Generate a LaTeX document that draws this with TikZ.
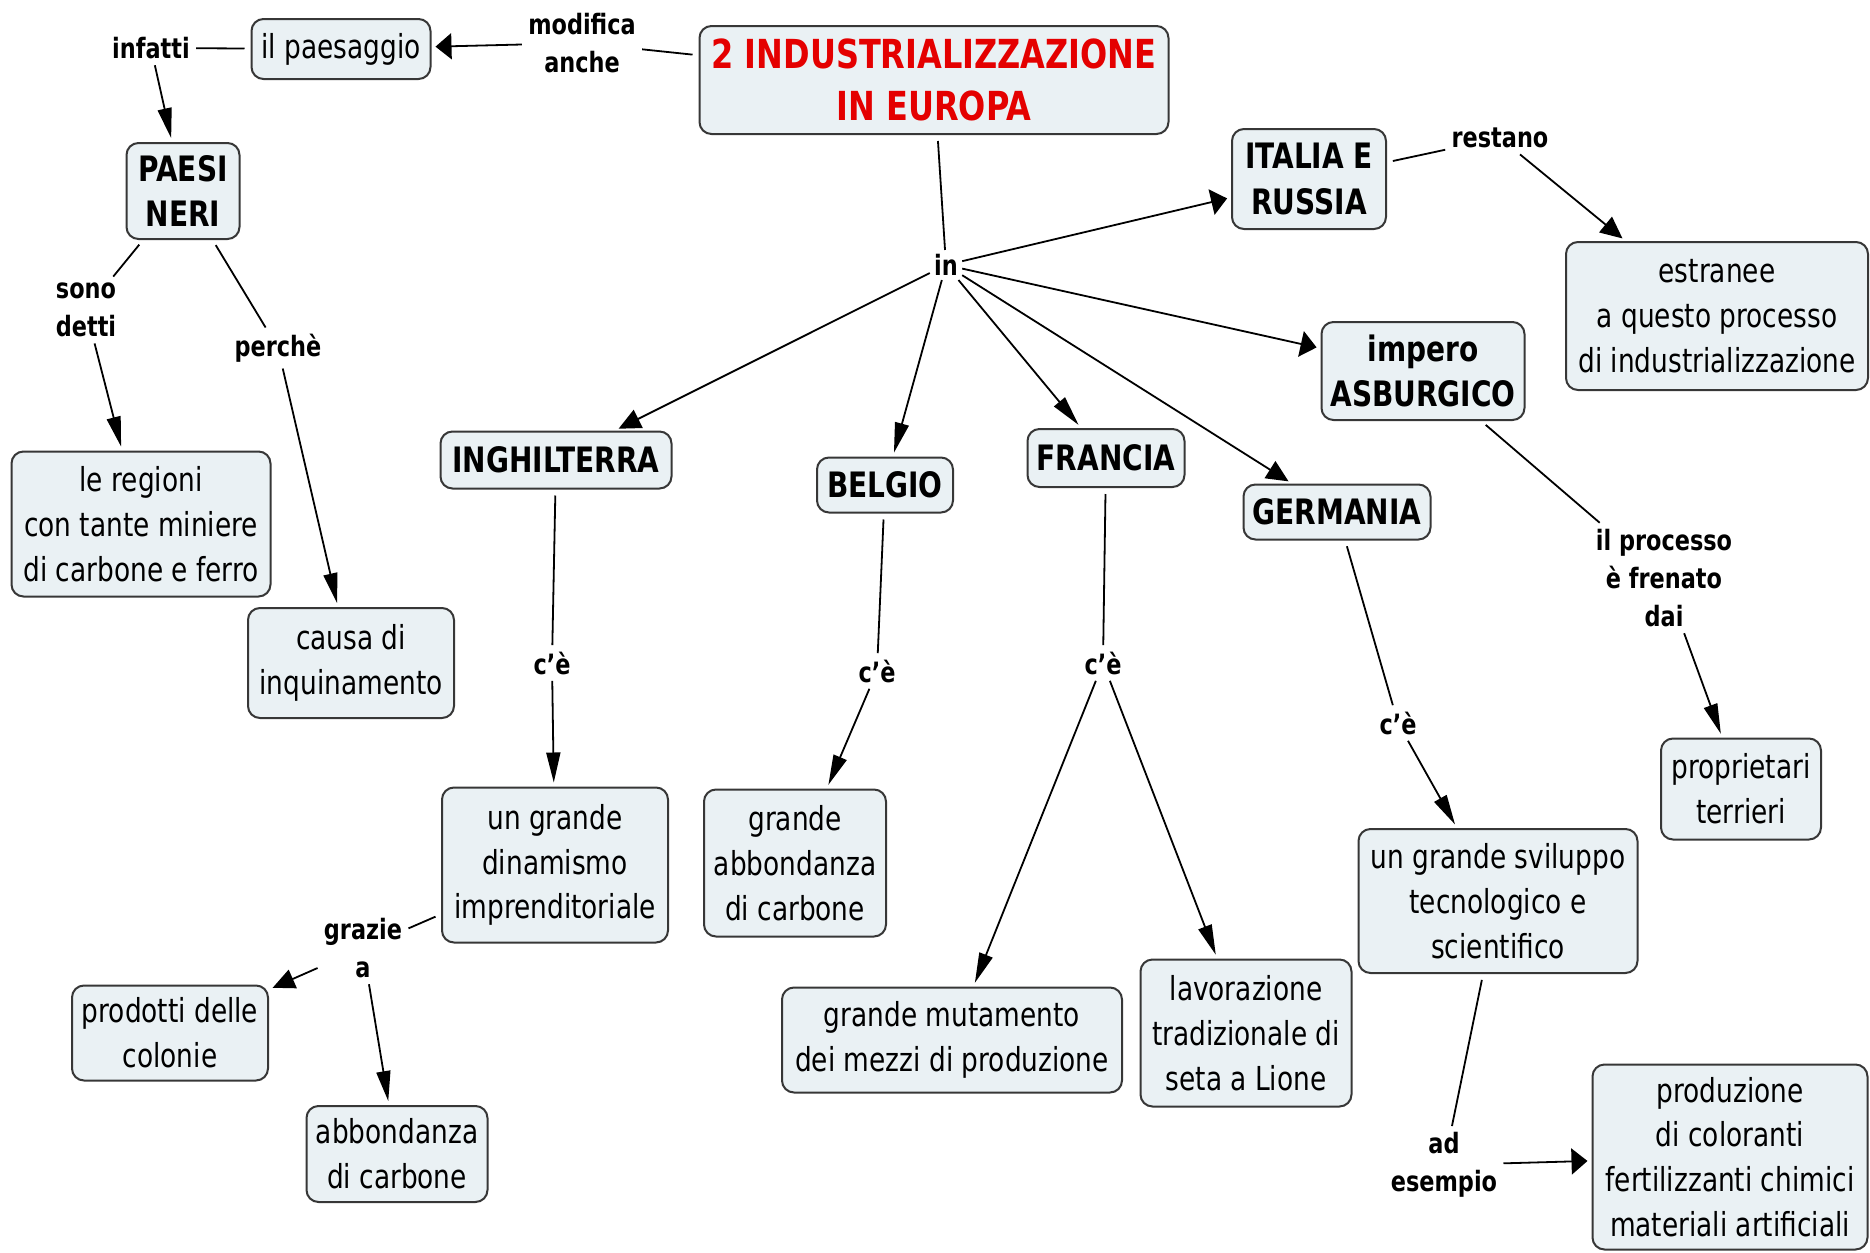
\documentclass[tikz,border=0pt]{standalone}
\usepackage{fontspec}
\setmainfont[FakeStretch=0.8]{DejaVu Sans}
\usetikzlibrary{arrows.meta}

\definecolor{boxfill}{RGB}{234,241,244}
\definecolor{boxline}{RGB}{55,55,55}
\definecolor{titlered}{RGB}{228,0,0}

\begin{document}
\begin{tikzpicture}[x=0.5pt,y=-0.5pt,
    box/.style={draw=boxline, line width=1pt, fill=boxfill, rounded corners=6pt,
      align=center, inner sep=0pt, font=\fontsize{16.5}{22.4}\selectfont},
    boldbox/.style={box, font=\fontsize{17.5}{22.6}\selectfont\bfseries},
    wh/.style 2 args={minimum width=#1pt, minimum height=#2pt},
    linkword/.style={align=center, inner sep=3pt, font=\fontsize{14}{19}\selectfont\bfseries},
    line/.style={draw, line width=0.9pt, shorten <=3pt},
    varr/.style={draw, line width=0.9pt, shorten >=2pt, -{Triangle[length=15pt,width=7pt]}},
    marr/.style={draw, line width=0.9pt, shorten >=2pt, -{Triangle[length=11pt,width=10pt]}},
    harr/.style={draw, line width=0.9pt, shorten >=2pt, -{Triangle[length=8pt,width=13pt]}}]

  \useasboundingbox (0,0) rectangle (1870,1253);

  % concepts
  \node[box, wh={234.5}{54}, text=titlered, font=\fontsize{20}{25.6}\selectfont\bfseries]
    (title) at (934,80) {2 INDUSTRIALIZZAZIONE\\IN EUROPA};

  \begin{scope}[every node/.style={box}]
    \node[wh={89.5}{30}]    (paesaggio)   at (341,49)    {il paesaggio};
    \node[wh={129.5}{72.5}] (regioni)     at (141,524)   {le regioni\\con tante miniere\\di carbone e ferro};
    \node[wh={103}{55}]     (causa)       at (351,663)   {causa di\\inquinamento};
    \node[wh={151}{74}]     (estranee)    at (1717,316)  {estranee\\a questo processo\\di industrializzazione};
    \node[wh={80}{50.5}]    (proprietari) at (1741,789)  {proprietari\\terrieri};
    \node[wh={113}{77.5}]   (dinamismo)   at (555,865)   {un grande\\dinamismo\\imprenditoriale};
    \node[wh={91}{73.5}]    (carbonebe)   at (795,863)   {grande\\abbondanza\\di carbone};
    \node[wh={170}{52.5}]   (mutamento)   at (952,1040)  {grande mutamento\\dei mezzi di produzione};
    \node[wh={105.5}{73.5}] (seta)        at (1246,1033) {lavorazione\\tradizionale di\\seta a Lione};
    \node[wh={139.5}{72}]   (sviluppo)    at (1498,901)  {un grande sviluppo\\tecnologico e\\scientifico};
    \node[wh={137.5}{92.5}] (produzione)  at (1730,1157) {produzione\\di coloranti\\fertilizzanti chimici\\materiali artificiali};
    \node[wh={98}{47.5}]    (colonie)     at (170,1033)  {prodotti delle\\colonie};
    \node[wh={90.5}{48}]    (carboneen)   at (397,1154)  {abbondanza\\di carbone};
  \end{scope}

  \begin{scope}[every node/.style={boldbox}]
    \node[wh={56.5}{48}]   (paesi)       at (183,191)  {PAESI\\NERI};
    \node[wh={77}{50}]     (italia)      at (1309,179) {ITALIA E\\RUSSIA};
    \node[wh={101.5}{49}]  (impero)      at (1423,371) {impero\\ASBURGICO};
    \node[wh={115.5}{28.5}](inghilterra) at (556,460)  {INGHILTERRA};
    \node[wh={68}{27.5}]   (belgio)      at (885,485)  {BELGIO};
    \node[wh={78.5}{29}]   (francia)     at (1106,458) {FRANCIA};
    \node[wh={93.5}{27.5}] (germania)    at (1337,512) {GERMANIA};
  \end{scope}

  % linking words
  \begin{scope}[every node/.style={linkword}]
    \node (modifica) at (582,43)   {modifica\\anche};
    \node (infatti)  at (151,48)   {infatti};
    \node (detti)    at (86,310)   {sono\\detti};
    \node (perche)   at (278,348)  {perchè};
    \node[inner sep=2pt] (in) at (946,265) {in};
    \node (restano)  at (1500,138) {restano};
    \node (frenato)  at (1664,578) {il processo\\è frenato\\dai};
    \node (ceen)     at (552,663)  {c'è};
    \node (cebe)     at (877,671)  {c'è};
    \node (cefr)     at (1103,663) {c'è};
    \node (cege)     at (1398,723) {c'è};
    \node (grazie)   at (363,948)  {grazie\\a};
    \node (esempio)  at (1444,1165){ad\\esempio};
  \end{scope}

  % connections
  \path (title)     edge[line] (modifica);
  \path (modifica)  edge[harr] (paesaggio);
  \path (paesaggio) edge[line] (infatti);
  \path (infatti)   edge[varr] (paesi);
  \path (paesi)     edge[line] (detti);
  \path (detti)     edge[varr] (regioni);
  \path (paesi)     edge[line] (perche);
  \path (perche)    edge[varr] (causa);

  \path (title) edge[line] (in);
  \path (in) edge[harr] (italia);
  \path (in) edge[harr] (impero);
  \path (in) edge[marr] (inghilterra);
  \path (in) edge[varr] (belgio);
  \path (in) edge[varr] (francia);
  \path (in) edge[marr] (germania);

  \path (italia)  edge[line] (restano);
  \path (restano) edge[marr] (estranee);
  \path (impero)  edge[line] (frenato);
  \path (frenato) edge[varr] (proprietari);

  \path (inghilterra) edge[line] (ceen);
  \path (ceen)        edge[varr] (dinamismo);
  \path (dinamismo)   edge[line] (grazie);
  \path (grazie)      edge[marr] (colonie);
  \path (grazie)      edge[varr] (carboneen);

  \path (belgio) edge[line] (cebe);
  \path (cebe)   edge[varr] (carbonebe);

  \path (francia) edge[line] (cefr);
  \path (cefr)    edge[varr] (mutamento);
  \path (cefr)    edge[varr] (seta);

  \path (germania) edge[line] (cege);
  \path (cege)     edge[varr] (sviluppo);
  \path (sviluppo) edge[line] (esempio);
  \path (esempio)  edge[harr] (produzione);

\end{tikzpicture}
\end{document}
